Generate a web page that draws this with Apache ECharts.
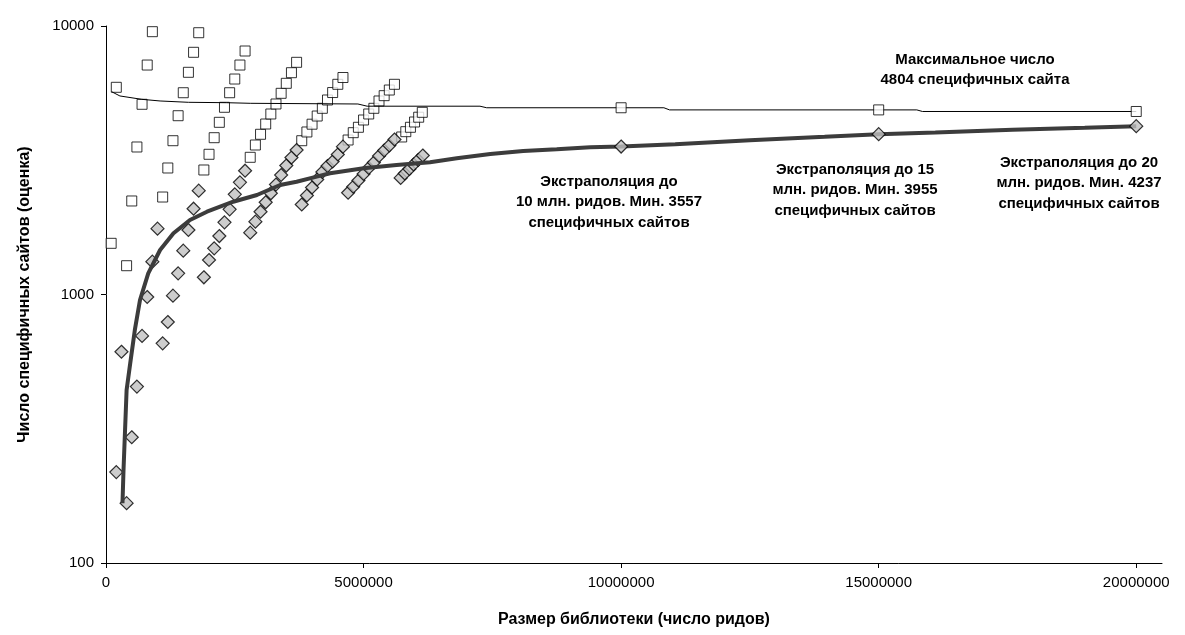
<!DOCTYPE html>
<html>
<head>
<meta charset="utf-8">
<script src="https://cdn.jsdelivr.net/npm/echarts@6/dist/echarts.min.js"></script>
<style>
  html, body { margin: 0; padding: 0; background: #fff; }
  #chart { width: 1185px; height: 635px; }
</style>
</head>
<body>
<div id="chart"></div>
<script>
// подвыборки: максимальная оценка (квадраты)
var maxReads = [
  100000, 200000, 400000, 500000, 600000, 700000, 800000, 900000,
  1100000, 1200000, 1300000, 1400000, 1500000, 1600000, 1700000, 1800000,
  1900000, 2000000, 2100000, 2200000, 2300000, 2400000, 2500000, 2600000, 2700000,
  2800000, 2900000, 3000000, 3100000, 3200000, 3300000, 3400000, 3500000, 3600000, 3700000,
  3800000, 3900000, 4000000, 4100000, 4200000, 4300000, 4400000, 4500000, 4600000,
  4700000, 4800000, 4900000, 5000000, 5100000, 5200000, 5300000, 5400000, 5500000, 5600000,
  5740000, 5820000, 5910000, 5990000, 6070000, 6140000
];
var maxSites = [
  1551, 5911, 1280, 2230, 3543, 5110, 7155, 9524,
  2307, 2959, 3739, 4633, 5643, 6723, 7980, 9441,
  2909, 3328, 3837, 4378, 4980, 5643, 6346, 7155, 8070,
  3243, 3604, 3951, 4315, 4702, 5123, 5614, 6117, 6700, 7324,
  3739, 4030, 4308, 4621, 4937, 5302, 5652, 6065, 6429,
  3762, 4006, 4195, 4466, 4702, 4937, 5257, 5502, 5775, 6065,
  3861, 4040, 4195, 4390, 4574, 4770
];
// подвыборки: минимальная оценка (ромбы)
var minReads = [
  200000, 300000, 400000, 500000, 600000, 700000, 800000, 900000, 1000000,
  1100000, 1200000, 1300000, 1400000, 1500000, 1600000, 1700000, 1800000,
  1900000, 2000000, 2100000, 2200000, 2300000, 2400000, 2500000, 2600000, 2700000,
  2800000, 2900000, 3000000, 3100000, 3200000, 3300000, 3400000, 3500000, 3600000, 3700000,
  3800000, 3900000, 4000000, 4100000, 4200000, 4300000, 4400000, 4500000, 4600000,
  4700000, 4800000, 4900000, 5000000, 5100000, 5200000, 5300000, 5400000, 5500000, 5600000,
  5720000, 5800000, 5890000, 5970000, 6060000, 6150000
];
var minSites = [
  218, 612, 167, 294, 454, 701, 979, 1325, 1759,
  658, 790, 990, 1199, 1456, 1739, 2087, 2436,
  1159, 1344, 1486, 1651, 1857, 2076, 2361, 2617, 2891,
  1699, 1867, 2034, 2205, 2382, 2568, 2787, 3022, 3237, 3453,
  2164, 2337, 2503, 2682, 2859, 3010, 3128, 3322, 3552,
  2394, 2520, 2658, 2811, 2959, 3102, 3279, 3438, 3589, 3778,
  2717, 2823, 2934, 3049, 3169, 3294
];
// кривая максимума
var maxCurveReads = [110000, 270000, 690000, 1050000, 1600000, 2340000, 2800000, 4890000, 5070000,
  7260000, 7390000, 10830000, 10940000, 15740000, 15850000, 20000000];
var maxCurveSites = [5691, 5488, 5333, 5257, 5198, 5180, 5153, 5123, 5027,
  5027, 4960, 4960, 4870, 4870, 4804, 4804];
// кривая минимума (экстраполяция)
var minCurveReads = [320000, 340000, 370000, 400000, 470000, 560000, 660000, 820000, 1050000,
  1310000, 1630000, 1960000, 2470000, 2930000, 3380000, 3700000, 4090000, 4350000, 5000000,
  5640000, 6290000, 6810000, 7460000, 8100000, 8750000, 9400000, 10000000, 11050000,
  12500000, 13950000, 15000000, 16100000, 17600000, 19000000, 20000000];
var minCurveSites = [167, 222, 313, 441, 554, 738, 954, 1199, 1465,
  1690, 1895, 2034, 2216, 2348, 2557, 2630, 2747, 2828, 2951,
  3035, 3107, 3215, 3336, 3423, 3474, 3534, 3557, 3629,
  3757, 3867, 3955, 4013, 4108, 4180, 4237];
// точки экстраполяции
var extraReads = [10000000, 15000000, 20000000];
var extraMax = [4960, 4870, 4804];
var extraMin = [3557, 3955, 4237];
var xTicks = [0, 5000000, 10000000, 15000000, 20000000];

function zip(a, b) {
  var out = [];
  for (var i = 0; i < a.length; i++) out.push([a[i], b[i]]);
  return out;
}
function plain(v) { return String(Math.round(v)); }

var FONT = '"Liberation Sans", Arial, sans-serif';
var chart = echarts.init(document.getElementById('chart'), null, { renderer: 'canvas' });

var squareStyle = { color: '#fff', borderColor: '#000', borderWidth: 1 };
var diamondStyle = { color: '#c0c0c0', borderColor: '#000', borderWidth: 1.2 };

function note(x, y, text) {
  return {
    type: 'text', x: x, y: y, z: 100,
    style: {
      text: text, fill: '#000', align: 'center', verticalAlign: 'middle',
      font: 'bold 15px ' + FONT, lineHeight: 20.5
    }
  };
}

var option = {
  animation: false,
  backgroundColor: '#fff',
  grid: { left: 106, right: 23, top: 26, bottom: 72 },
  xAxis: {
    type: 'value',
    min: 0,
    max: 20500000,
    name: 'Размер библиотеки (число ридов)',
    nameLocation: 'middle',
    nameGap: 49,
    nameTextStyle: { color: '#000', fontWeight: 'bold', fontSize: 16, fontFamily: FONT },
    axisLine: { onZero: false, lineStyle: { color: '#000', width: 1 } },
    axisTick: { length: 5, lineStyle: { color: '#000' }, customValues: xTicks },
    axisLabel: { color: '#000', fontSize: 15, fontFamily: FONT, margin: 12,
      customValues: xTicks, formatter: plain },
    splitLine: { show: false }
  },
  yAxis: {
    type: 'log',
    logBase: 10,
    min: 100,
    max: 10000,
    name: 'Число специфичных сайтов (оценка)',
    nameLocation: 'middle',
    nameGap: 73,
    nameTextStyle: { color: '#000', fontWeight: 'bold', fontSize: 16, fontFamily: FONT },
    axisLine: { show: true, lineStyle: { color: '#000', width: 1 } },
    axisTick: { show: true, length: 5, lineStyle: { color: '#000' } },
    axisLabel: { color: '#000', fontSize: 15, fontFamily: FONT, margin: 12, formatter: plain },
    splitLine: { show: false }
  },
  series: [
    {
      name: 'max', type: 'scatter', symbol: 'rect', symbolSize: 10,
      itemStyle: squareStyle, data: zip(maxReads, maxSites), z: 2
    },
    {
      name: 'min', type: 'scatter', symbol: 'diamond', symbolSize: 13,
      itemStyle: diamondStyle, data: zip(minReads, minSites), z: 2
    },
    {
      name: 'maxCurve', type: 'line', showSymbol: false, symbol: 'none',
      lineStyle: { color: '#000', width: 1 }, data: zip(maxCurveReads, maxCurveSites), z: 3
    },
    {
      name: 'minCurve', type: 'line', showSymbol: false, symbol: 'none',
      lineStyle: { color: '#3c3c3c', width: 4 }, data: zip(minCurveReads, minCurveSites), z: 3
    },
    {
      name: 'extraMax', type: 'scatter', symbol: 'rect', symbolSize: 10,
      itemStyle: squareStyle, data: zip(extraReads, extraMax), z: 4
    },
    {
      name: 'extraMin', type: 'scatter', symbol: 'diamond', symbolSize: 13,
      itemStyle: diamondStyle, data: zip(extraReads, extraMin), z: 4
    }
  ],
  graphic: [
    note(975, 70, 'Максимальное число\n4804 специфичных сайта'),
    note(609, 202, 'Экстраполяция до\n10 млн. ридов. Мин. 3557\nспецифичных сайтов'),
    note(855, 190, 'Экстраполяция до 15\nмлн. ридов. Мин. 3955\nспецифичных сайтов'),
    note(1079, 183, 'Экстраполяция до 20\nмлн. ридов. Мин. 4237\nспецифичных сайтов')
  ]
};

chart.setOption(option);
window.addEventListener('resize', function () { chart.resize(); });
</script>
</body>
</html>
